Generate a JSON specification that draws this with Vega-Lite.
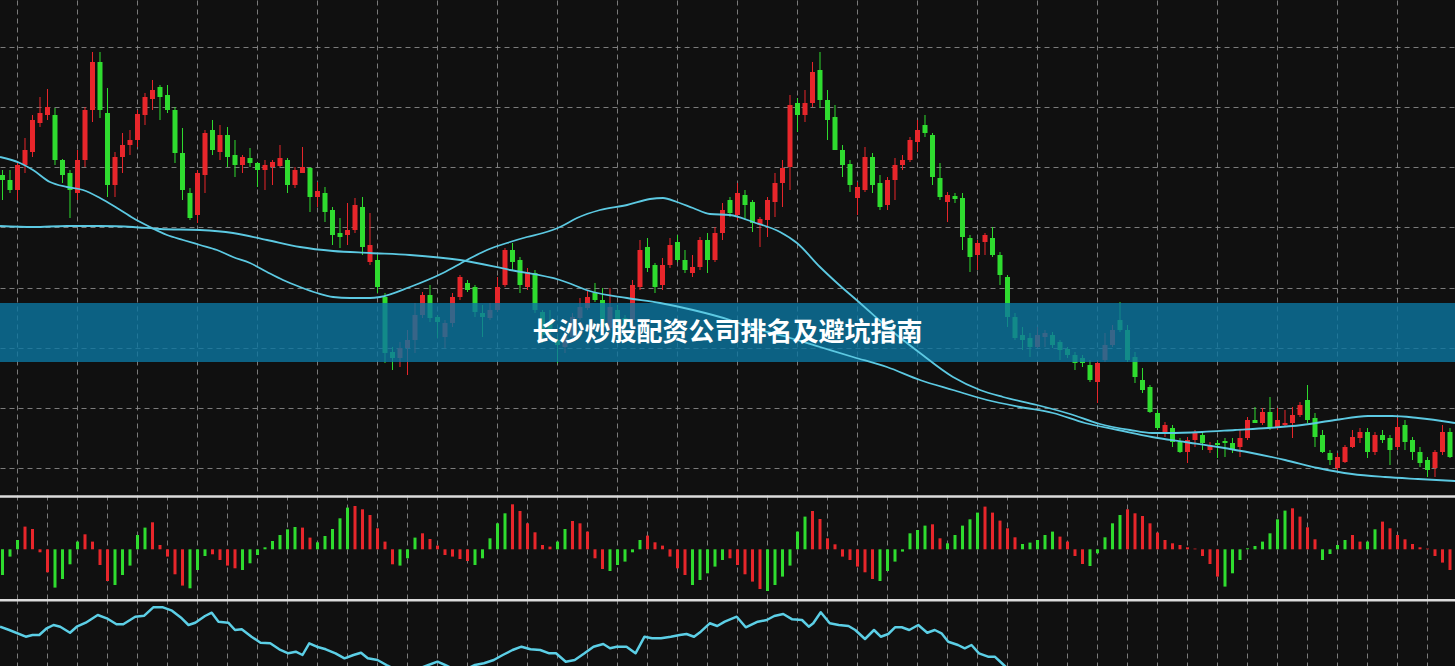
{
"$schema":"https://vega.github.io/schema/vega-lite/v6.json",
"background":"#101010","padding":0,"spacing":0,
"config":{"view":{"stroke":null},"axis":{"labels":false,"ticks":false,"domain":false,"minExtent":0,"maxExtent":0,"gridDash":[5,4],"gridColor":"#8e8e8e","gridOpacity":0.85,"gridWidth":1}},
"datasets":{
"candles":[
{"i":0,"o":32.5,"h":33,"l":30,"c":32,"d":"dn"},{"i":1,"o":32,"h":33,"l":30.7,"c":31,"d":"dn"},{"i":2,"o":31,"h":33.7,"l":30,"c":33.5,"d":"up"},{"i":3,"o":33.5,"h":36.2,"l":32.7,"c":35,"d":"up"},{"i":4,"o":34.8,"h":38.5,"l":34.3,"c":38,"d":"up"},{"i":5,"o":37.7,"h":40.3,"l":37.3,"c":38.7,"d":"up"},{"i":6,"o":38.5,"h":41.1,"l":38,"c":39.3,"d":"up"},{"i":7,"o":38.5,"h":39.2,"l":33.5,"c":34,"d":"dn"},{"i":8,"o":34,"h":34.1,"l":31.7,"c":32.5,"d":"dn"},{"i":9,"o":32.7,"h":33,"l":28.2,"c":31,"d":"dn"},
{"i":10,"o":30.7,"h":35,"l":30,"c":34,"d":"up"},{"i":11,"o":34,"h":39.3,"l":33.3,"c":39,"d":"up"},{"i":12,"o":39,"h":44.8,"l":37.8,"c":43.8,"d":"up"},{"i":13,"o":43.8,"h":44.8,"l":38.2,"c":39,"d":"dn"},{"i":14,"o":38.7,"h":41.2,"l":30.3,"c":31.5,"d":"dn"},{"i":15,"o":31.5,"h":34.8,"l":30.3,"c":34.3,"d":"up"},{"i":16,"o":34.3,"h":36.7,"l":32.7,"c":35.5,"d":"up"},{"i":17,"o":35.5,"h":37,"l":34.5,"c":36,"d":"up"},{"i":18,"o":36,"h":39,"l":35.3,"c":38.6,"d":"up"},{"i":19,"o":38.5,"h":40.7,"l":37.5,"c":40.3,"d":"up"},
{"i":20,"o":40.1,"h":42,"l":39,"c":41,"d":"up"},{"i":21,"o":41.3,"h":41.5,"l":38,"c":40.3,"d":"dn"},{"i":22,"o":40.5,"h":41.5,"l":38.7,"c":39,"d":"dn"},{"i":23,"o":39,"h":39.3,"l":33.7,"c":34.7,"d":"dn"},{"i":24,"o":34.7,"h":37.2,"l":30,"c":31,"d":"dn"},{"i":25,"o":30.7,"h":31.2,"l":28,"c":28.2,"d":"dn"},{"i":26,"o":28.5,"h":33,"l":27.7,"c":32.7,"d":"up"},{"i":27,"o":32.5,"h":37,"l":30.7,"c":36.7,"d":"up"},{"i":28,"o":37,"h":38,"l":34.5,"c":35,"d":"dn"},{"i":29,"o":34.8,"h":37.5,"l":34,"c":36.5,"d":"up"},
{"i":30,"o":36.5,"h":37.3,"l":33.3,"c":34.3,"d":"dn"},{"i":31,"o":34.5,"h":36,"l":32.3,"c":33.5,"d":"dn"},{"i":32,"o":33.5,"h":34.5,"l":32.7,"c":34.3,"d":"up"},{"i":33,"o":34.2,"h":35.2,"l":33.3,"c":33.7,"d":"dn"},{"i":34,"o":33.7,"h":33.8,"l":31.3,"c":33,"d":"dn"},{"i":35,"o":33,"h":34,"l":31,"c":33.5,"d":"up"},{"i":36,"o":33.3,"h":34,"l":31.5,"c":33.8,"d":"up"},{"i":37,"o":33.4,"h":35.5,"l":33.3,"c":34.2,"d":"up"},{"i":38,"o":34,"h":34.2,"l":30.7,"c":31.5,"d":"dn"},{"i":39,"o":31.5,"h":33.3,"l":31.2,"c":33,"d":"up"},
{"i":40,"o":32.7,"h":35.3,"l":32.7,"c":33.3,"d":"up"},{"i":41,"o":33.2,"h":33.3,"l":28.8,"c":30.3,"d":"dn"},{"i":42,"o":30.3,"h":31.8,"l":29.3,"c":30.9,"d":"up"},{"i":43,"o":30.7,"h":31.3,"l":27.8,"c":28.8,"d":"dn"},{"i":44,"o":29,"h":29.3,"l":25.5,"c":26.5,"d":"dn"},{"i":45,"o":26.7,"h":28.2,"l":25.2,"c":26.3,"d":"dn"},{"i":46,"o":26.5,"h":29.7,"l":25.5,"c":27,"d":"up"},{"i":47,"o":27,"h":30.2,"l":26.7,"c":29.5,"d":"up"},{"i":48,"o":29.3,"h":30.3,"l":24.5,"c":25.3,"d":"dn"},{"i":49,"o":23.8,"h":28.7,"l":23.5,"c":25.5,"d":"up"},
{"i":50,"o":24,"h":24.5,"l":20.7,"c":21.3,"d":"dn"},{"i":51,"o":20.3,"h":20.7,"l":13.7,"c":14.7,"d":"dn"},{"i":52,"o":14.8,"h":15.3,"l":13,"c":14.2,"d":"dn"},{"i":53,"o":14.2,"h":15.8,"l":13.3,"c":15.2,"d":"up"},{"i":54,"o":15.2,"h":17,"l":12.5,"c":16,"d":"up"},{"i":55,"o":16,"h":19.7,"l":14.7,"c":18.5,"d":"up"},{"i":56,"o":18.5,"h":20.8,"l":18.2,"c":20.5,"d":"up"},{"i":57,"o":20.5,"h":21.5,"l":17.8,"c":18.2,"d":"dn"},{"i":58,"o":18.3,"h":18.5,"l":16.2,"c":17.8,"d":"dn"},{"i":59,"o":16.3,"h":18,"l":15.2,"c":17.7,"d":"up"},
{"i":60,"o":17.7,"h":20.7,"l":17.3,"c":20.3,"d":"up"},{"i":61,"o":20.3,"h":22.5,"l":20,"c":22.3,"d":"up"},{"i":62,"o":21.7,"h":22,"l":20.8,"c":21,"d":"dn"},{"i":63,"o":21.3,"h":21.5,"l":18.3,"c":18.8,"d":"dn"},{"i":64,"o":18.7,"h":19.5,"l":16.3,"c":18.3,"d":"dn"},{"i":65,"o":18.2,"h":19.7,"l":18,"c":19,"d":"up"},{"i":66,"o":19,"h":22.3,"l":18.8,"c":21.3,"d":"up"},{"i":67,"o":21.5,"h":25.2,"l":21.3,"c":25,"d":"up"},{"i":68,"o":25,"h":25.7,"l":23,"c":23.8,"d":"dn"},{"i":69,"o":24,"h":24.3,"l":20.7,"c":21.5,"d":"dn"},
{"i":70,"o":21.3,"h":23.2,"l":21,"c":22.8,"d":"up"},{"i":71,"o":22.7,"h":23,"l":18.7,"c":19,"d":"dn"},{"i":72,"o":18.8,"h":19,"l":15.7,"c":16.5,"d":"dn"},{"i":73,"o":17.8,"h":19,"l":16,"c":17,"d":"dn"},{"i":74,"o":16,"h":16.3,"l":13.7,"c":15.5,"d":"dn"},{"i":75,"o":15.3,"h":17,"l":14.7,"c":16.3,"d":"up"},{"i":76,"o":16.3,"h":18.7,"l":16,"c":18.3,"d":"up"},{"i":77,"o":18.2,"h":20.2,"l":18,"c":19.3,"d":"up"},{"i":78,"o":19.2,"h":21,"l":19,"c":20.3,"d":"up"},{"i":79,"o":20.7,"h":21.7,"l":19.8,"c":20,"d":"dn"},
{"i":80,"o":20,"h":21.2,"l":16.7,"c":17.3,"d":"dn"},{"i":81,"o":17.2,"h":21.2,"l":16.7,"c":19.3,"d":"up"},{"i":82,"o":19,"h":19.5,"l":17,"c":18,"d":"dn"},{"i":83,"o":18.2,"h":18.5,"l":16.7,"c":17.5,"d":"dn"},{"i":84,"o":18,"h":22,"l":17.7,"c":21.5,"d":"up"},{"i":85,"o":21.3,"h":26,"l":21,"c":25,"d":"up"},{"i":86,"o":25.3,"h":26.2,"l":22.8,"c":23.2,"d":"dn"},{"i":87,"o":23.5,"h":23.7,"l":20.7,"c":21.3,"d":"dn"},{"i":88,"o":21.5,"h":24.2,"l":21,"c":23.5,"d":"up"},{"i":89,"o":23.5,"h":26.2,"l":23.2,"c":25.5,"d":"up"},
{"i":90,"o":25.8,"h":26.5,"l":23.8,"c":24,"d":"dn"},{"i":91,"o":24,"h":25,"l":22.7,"c":23,"d":"dn"},{"i":92,"o":22.7,"h":24.5,"l":22.3,"c":23.3,"d":"up"},{"i":93,"o":23.3,"h":26.3,"l":23,"c":26,"d":"up"},{"i":94,"o":26,"h":26.7,"l":22.7,"c":24,"d":"dn"},{"i":95,"o":24,"h":27.3,"l":23.8,"c":26.7,"d":"up"},{"i":96,"o":26.7,"h":29.7,"l":26,"c":29,"d":"up"},{"i":97,"o":30,"h":30.3,"l":28.3,"c":28.7,"d":"dn"},{"i":98,"o":28.5,"h":31.7,"l":28,"c":30.7,"d":"up"},{"i":99,"o":30.5,"h":31,"l":28,"c":29.5,"d":"dn"},
{"i":100,"o":29.8,"h":30,"l":26.8,"c":27.7,"d":"dn"},{"i":101,"o":27.5,"h":28.3,"l":25.3,"c":28.1,"d":"up"},{"i":102,"o":28,"h":30.3,"l":26.3,"c":30,"d":"up"},{"i":103,"o":29.8,"h":32.7,"l":28.3,"c":31.7,"d":"up"},{"i":104,"o":31.7,"h":34,"l":29.3,"c":33.2,"d":"up"},{"i":105,"o":33.3,"h":40.5,"l":31,"c":39.5,"d":"up"},{"i":106,"o":39.7,"h":40.2,"l":36.8,"c":38.5,"d":"dn"},{"i":107,"o":38.5,"h":41,"l":37.8,"c":39.7,"d":"up"},{"i":108,"o":39.7,"h":43.8,"l":39.3,"c":42.8,"d":"up"},{"i":109,"o":43,"h":44.8,"l":39.2,"c":40,"d":"dn"},
{"i":110,"o":40,"h":41,"l":36,"c":38,"d":"dn"},{"i":111,"o":38.3,"h":39.5,"l":35,"c":35,"d":"dn"},{"i":112,"o":35,"h":35.5,"l":32.3,"c":33.5,"d":"dn"},{"i":113,"o":33.6,"h":34,"l":30.8,"c":31.5,"d":"dn"},{"i":114,"o":30.2,"h":31.8,"l":28.5,"c":31.3,"d":"up"},{"i":115,"o":31,"h":35.3,"l":30.8,"c":34.3,"d":"up"},{"i":116,"o":34.3,"h":34.7,"l":30.7,"c":31.5,"d":"dn"},{"i":117,"o":31.7,"h":32.5,"l":29,"c":29.3,"d":"dn"},{"i":118,"o":29.5,"h":32.3,"l":29,"c":32,"d":"up"},{"i":119,"o":32,"h":34.2,"l":30,"c":33.5,"d":"up"},
{"i":120,"o":33.5,"h":34.5,"l":33,"c":34,"d":"up"},{"i":121,"o":34,"h":36.3,"l":33.8,"c":36,"d":"up"},{"i":122,"o":35.8,"h":38,"l":34.8,"c":37,"d":"up"},{"i":123,"o":37.5,"h":38.5,"l":36.3,"c":36.7,"d":"dn"},{"i":124,"o":36.5,"h":36.7,"l":31.5,"c":32.3,"d":"dn"},{"i":125,"o":32.2,"h":33.7,"l":30,"c":30.3,"d":"dn"},{"i":126,"o":29.8,"h":30.8,"l":27.8,"c":30.5,"d":"up"},{"i":127,"o":30.4,"h":30.7,"l":29.7,"c":30.1,"d":"dn"},{"i":128,"o":30.2,"h":30.7,"l":25,"c":26.3,"d":"dn"},{"i":129,"o":26.2,"h":26.5,"l":22.8,"c":24.3,"d":"dn"},
{"i":130,"o":24.5,"h":26,"l":23,"c":25.7,"d":"up"},{"i":131,"o":25.8,"h":26.7,"l":24.5,"c":26.5,"d":"up"},{"i":132,"o":26.2,"h":27.3,"l":24.3,"c":24.5,"d":"dn"},{"i":133,"o":24.5,"h":24.8,"l":21.5,"c":22.5,"d":"dn"},{"i":134,"o":22.3,"h":22.5,"l":17.3,"c":18.3,"d":"dn"},{"i":135,"o":18.3,"h":18.7,"l":16,"c":16.2,"d":"dn"},{"i":136,"o":16.5,"h":17.3,"l":15,"c":16,"d":"dn"},{"i":137,"o":16.2,"h":16.7,"l":14.3,"c":15.3,"d":"dn"},{"i":138,"o":15.3,"h":17.3,"l":15.2,"c":16.5,"d":"up"},{"i":139,"o":16.3,"h":17,"l":15.3,"c":16.7,"d":"up"},
{"i":140,"o":16.5,"h":16.8,"l":15.2,"c":15.5,"d":"dn"},{"i":141,"o":15.8,"h":16,"l":14,"c":15,"d":"dn"},{"i":142,"o":15.1,"h":15.3,"l":14.2,"c":14.5,"d":"dn"},{"i":143,"o":14.5,"h":14.8,"l":13,"c":13.7,"d":"dn"},{"i":144,"o":14.2,"h":14.5,"l":13.3,"c":13.7,"d":"dn"},{"i":145,"o":13.5,"h":14,"l":11.8,"c":12,"d":"dn"},{"i":146,"o":11.8,"h":14,"l":9.7,"c":13.7,"d":"up"},{"i":147,"o":14,"h":16.7,"l":13.8,"c":15.5,"d":"up"},{"i":148,"o":15.5,"h":17.5,"l":15.3,"c":17,"d":"up"},{"i":149,"o":18,"h":19.8,"l":16.8,"c":17,"d":"dn"},
{"i":150,"o":17,"h":17.5,"l":13.8,"c":14,"d":"dn"},{"i":151,"o":14.3,"h":14.8,"l":11.7,"c":12.3,"d":"dn"},{"i":152,"o":12,"h":13.2,"l":10.7,"c":11,"d":"dn"},{"i":153,"o":11.3,"h":11.5,"l":8.7,"c":8.8,"d":"dn"},{"i":154,"o":8.7,"h":9,"l":7,"c":7.2,"d":"dn"},{"i":155,"o":6.7,"h":7.8,"l":6.3,"c":7.5,"d":"up"},{"i":156,"o":7.2,"h":7.5,"l":5.3,"c":5.8,"d":"dn"},{"i":157,"o":5.8,"h":6.2,"l":4.7,"c":4.8,"d":"dn"},{"i":158,"o":4.8,"h":6.3,"l":3.7,"c":6,"d":"up"},{"i":159,"o":6,"h":7,"l":5.3,"c":6.7,"d":"up"},
{"i":160,"o":6.5,"h":6.8,"l":5,"c":5.7,"d":"dn"},{"i":161,"o":5,"h":5.8,"l":4.7,"c":5.5,"d":"up"},{"i":162,"o":5.7,"h":6,"l":4.2,"c":5.5,"d":"dn"},{"i":163,"o":5.9,"h":6.2,"l":4.3,"c":5.7,"d":"dn"},{"i":164,"o":5.7,"h":6.2,"l":4.7,"c":5.1,"d":"dn"},{"i":165,"o":5.3,"h":7,"l":4.3,"c":6.2,"d":"up"},{"i":166,"o":6.2,"h":8.3,"l":6,"c":8,"d":"up"},{"i":167,"o":8,"h":9.3,"l":7.7,"c":7.7,"d":"dn"},{"i":168,"o":7.7,"h":9.2,"l":7.5,"c":8.8,"d":"up"},{"i":169,"o":8.8,"h":10.3,"l":7,"c":7.2,"d":"dn"},
{"i":170,"o":7.2,"h":9.2,"l":7,"c":8,"d":"up"},{"i":171,"o":7.5,"h":9,"l":7.3,"c":7.7,"d":"up"},{"i":172,"o":7.7,"h":9.3,"l":6.2,"c":8.5,"d":"up"},{"i":173,"o":8.5,"h":9.8,"l":8.3,"c":9.5,"d":"up"},{"i":174,"o":10,"h":11.5,"l":7.7,"c":8,"d":"dn"},{"i":175,"o":8.2,"h":8.7,"l":5.3,"c":6.3,"d":"dn"},{"i":176,"o":6.5,"h":7,"l":4.7,"c":4.8,"d":"dn"},{"i":177,"o":4.7,"h":5,"l":3.5,"c":4,"d":"dn"},{"i":178,"o":3.2,"h":4.7,"l":3,"c":4.3,"d":"up"},{"i":179,"o":3.8,"h":5.5,"l":3.7,"c":5.3,"d":"up"},
{"i":180,"o":5.3,"h":7,"l":5.2,"c":6.3,"d":"up"},{"i":181,"o":6.2,"h":7.2,"l":5.7,"c":6.8,"d":"up"},{"i":182,"o":6.8,"h":7.2,"l":4.2,"c":4.8,"d":"dn"},{"i":183,"o":4.8,"h":6.8,"l":4.5,"c":6.5,"d":"up"},{"i":184,"o":6.5,"h":7,"l":5.7,"c":6,"d":"dn"},{"i":185,"o":6.2,"h":6.5,"l":3.5,"c":5,"d":"dn"},{"i":186,"o":5.3,"h":8.2,"l":5,"c":7.3,"d":"up"},{"i":187,"o":7.5,"h":8,"l":5,"c":5.8,"d":"dn"},{"i":188,"o":6,"h":6.3,"l":4,"c":4.8,"d":"dn"},{"i":189,"o":4.8,"h":5.3,"l":3.3,"c":3.7,"d":"dn"},
{"i":190,"o":4,"h":4.3,"l":2.3,"c":3,"d":"dn"},{"i":191,"o":3.2,"h":5,"l":2.3,"c":4.8,"d":"up"},{"i":192,"o":4.8,"h":7.5,"l":4.5,"c":6.8,"d":"up"},{"i":193,"o":6.8,"h":7.2,"l":4.2,"c":4.3,"d":"dn"}
],
"hist":[
{"i":0,"v":-25.7,"d":"dn"},{"i":1,"v":-7.3,"d":"dn"},{"i":2,"v":9.3,"d":"dn"},{"i":3,"v":22.7,"d":"up"},{"i":4,"v":20.3,"d":"up"},{"i":5,"v":-3,"d":"up"},{"i":6,"v":-23,"d":"up"},{"i":7,"v":-38.3,"d":"dn"},{"i":8,"v":-29.7,"d":"dn"},{"i":9,"v":-15,"d":"dn"},
{"i":10,"v":7.7,"d":"dn"},{"i":11,"v":15,"d":"up"},{"i":12,"v":7.7,"d":"up"},{"i":13,"v":-15.7,"d":"up"},{"i":14,"v":-31.7,"d":"up"},{"i":15,"v":-35.7,"d":"dn"},{"i":16,"v":-25.7,"d":"dn"},{"i":17,"v":-16.3,"d":"dn"},{"i":18,"v":14.3,"d":"dn"},{"i":19,"v":21.7,"d":"dn"},
{"i":20,"v":27,"d":"up"},{"i":21,"v":4.3,"d":"up"},{"i":22,"v":-7.3,"d":"up"},{"i":23,"v":-25,"d":"up"},{"i":24,"v":-36.3,"d":"up"},{"i":25,"v":-39,"d":"dn"},{"i":26,"v":-20.7,"d":"dn"},{"i":27,"v":-6.7,"d":"dn"},{"i":28,"v":-5,"d":"up"},{"i":29,"v":-10.7,"d":"up"},
{"i":30,"v":-16.3,"d":"up"},{"i":31,"v":-19,"d":"up"},{"i":32,"v":-20.7,"d":"dn"},{"i":33,"v":-14,"d":"dn"},{"i":34,"v":-5.7,"d":"dn"},{"i":35,"v":2,"d":"dn"},{"i":36,"v":8.3,"d":"dn"},{"i":37,"v":14.3,"d":"dn"},{"i":38,"v":20,"d":"dn"},{"i":39,"v":22.3,"d":"dn"},
{"i":40,"v":21.7,"d":"up"},{"i":41,"v":11.7,"d":"up"},{"i":42,"v":7,"d":"dn"},{"i":43,"v":13.3,"d":"dn"},{"i":44,"v":20.3,"d":"dn"},{"i":45,"v":31,"d":"dn"},{"i":46,"v":41.7,"d":"dn"},{"i":47,"v":43.3,"d":"up"},{"i":48,"v":40,"d":"up"},{"i":49,"v":34.3,"d":"up"},
{"i":50,"v":21,"d":"up"},{"i":51,"v":7.7,"d":"up"},{"i":52,"v":-15,"d":"up"},{"i":53,"v":-16.3,"d":"dn"},{"i":54,"v":-9,"d":"dn"},{"i":55,"v":11.7,"d":"dn"},{"i":56,"v":16,"d":"up"},{"i":57,"v":10.3,"d":"up"},{"i":58,"v":3.7,"d":"up"},{"i":59,"v":-5.7,"d":"up"},
{"i":60,"v":-7.3,"d":"up"},{"i":61,"v":-9.7,"d":"up"},{"i":62,"v":-11.7,"d":"up"},{"i":63,"v":-15.7,"d":"dn"},{"i":64,"v":-9,"d":"dn"},{"i":65,"v":11,"d":"dn"},{"i":66,"v":26,"d":"dn"},{"i":67,"v":36,"d":"dn"},{"i":68,"v":45,"d":"up"},{"i":69,"v":38.3,"d":"up"},
{"i":70,"v":26,"d":"up"},{"i":71,"v":17,"d":"up"},{"i":72,"v":4.3,"d":"up"},{"i":73,"v":2.7,"d":"up"},{"i":74,"v":7.7,"d":"dn"},{"i":75,"v":20.3,"d":"dn"},{"i":76,"v":28.3,"d":"up"},{"i":77,"v":26,"d":"up"},{"i":78,"v":17.7,"d":"up"},{"i":79,"v":-9,"d":"up"},
{"i":80,"v":-19.7,"d":"up"},{"i":81,"v":-21.7,"d":"dn"},{"i":82,"v":-15.7,"d":"dn"},{"i":83,"v":-12.3,"d":"dn"},{"i":84,"v":-3,"d":"dn"},{"i":85,"v":9.3,"d":"dn"},{"i":86,"v":13.7,"d":"up"},{"i":87,"v":7,"d":"up"},{"i":88,"v":3.7,"d":"up"},{"i":89,"v":-7.3,"d":"up"},
{"i":90,"v":-19,"d":"up"},{"i":91,"v":-25.7,"d":"up"},{"i":92,"v":-35.7,"d":"dn"},{"i":93,"v":-30.7,"d":"dn"},{"i":94,"v":-24,"d":"dn"},{"i":95,"v":-17.3,"d":"dn"},{"i":96,"v":-10.7,"d":"dn"},{"i":97,"v":-9,"d":"up"},{"i":98,"v":-15.7,"d":"up"},{"i":99,"v":-25,"d":"up"},
{"i":100,"v":-32.3,"d":"up"},{"i":101,"v":-39.7,"d":"up"},{"i":102,"v":-41.7,"d":"dn"},{"i":103,"v":-35.7,"d":"dn"},{"i":104,"v":-27.3,"d":"dn"},{"i":105,"v":-16.3,"d":"dn"},{"i":106,"v":17.7,"d":"dn"},{"i":107,"v":32.7,"d":"dn"},{"i":108,"v":38.3,"d":"up"},{"i":109,"v":30.3,"d":"up"},
{"i":110,"v":11,"d":"up"},{"i":111,"v":5,"d":"up"},{"i":112,"v":-7.3,"d":"up"},{"i":113,"v":-10.7,"d":"up"},{"i":114,"v":-17.3,"d":"up"},{"i":115,"v":-23,"d":"up"},{"i":116,"v":-29.7,"d":"up"},{"i":117,"v":-31.7,"d":"dn"},{"i":118,"v":-21.7,"d":"dn"},{"i":119,"v":-12.3,"d":"dn"},
{"i":120,"v":-2.3,"d":"dn"},{"i":121,"v":16,"d":"dn"},{"i":122,"v":19.3,"d":"dn"},{"i":123,"v":23.7,"d":"dn"},{"i":124,"v":25,"d":"up"},{"i":125,"v":11,"d":"up"},{"i":126,"v":6,"d":"dn"},{"i":127,"v":14.3,"d":"dn"},{"i":128,"v":23.7,"d":"dn"},{"i":129,"v":30,"d":"dn"},
{"i":130,"v":36.7,"d":"dn"},{"i":131,"v":42.7,"d":"up"},{"i":132,"v":36.7,"d":"up"},{"i":133,"v":28.7,"d":"up"},{"i":134,"v":21,"d":"up"},{"i":135,"v":12,"d":"up"},{"i":136,"v":5.3,"d":"dn"},{"i":137,"v":6.7,"d":"dn"},{"i":138,"v":9.3,"d":"dn"},{"i":139,"v":14.3,"d":"dn"},
{"i":140,"v":17.7,"d":"dn"},{"i":141,"v":12.7,"d":"up"},{"i":142,"v":7.7,"d":"up"},{"i":143,"v":-6.7,"d":"up"},{"i":144,"v":-14.7,"d":"up"},{"i":145,"v":-16.7,"d":"dn"},{"i":146,"v":-4,"d":"dn"},{"i":147,"v":12,"d":"dn"},{"i":148,"v":26,"d":"dn"},{"i":149,"v":34.3,"d":"dn"},
{"i":150,"v":40,"d":"up"},{"i":151,"v":36,"d":"up"},{"i":152,"v":33.3,"d":"up"},{"i":153,"v":26,"d":"up"},{"i":154,"v":16.7,"d":"up"},{"i":155,"v":9.3,"d":"up"},{"i":156,"v":6,"d":"up"},{"i":157,"v":4.3,"d":"up"},{"i":158,"v":2,"d":"up"},{"i":159,"v":0.7,"d":"up"},
{"i":160,"v":-6.7,"d":"up"},{"i":161,"v":-14.7,"d":"up"},{"i":162,"v":-27.3,"d":"up"},{"i":163,"v":-37.3,"d":"dn"},{"i":164,"v":-24,"d":"dn"},{"i":165,"v":-10.7,"d":"dn"},{"i":166,"v":1,"d":"dn"},{"i":167,"v":3.3,"d":"dn"},{"i":168,"v":7.7,"d":"dn"},{"i":169,"v":16,"d":"dn"},
{"i":170,"v":30,"d":"dn"},{"i":171,"v":38.7,"d":"dn"},{"i":172,"v":41,"d":"up"},{"i":173,"v":32.7,"d":"up"},{"i":174,"v":22,"d":"up"},{"i":175,"v":10,"d":"up"},{"i":176,"v":-10.7,"d":"dn"},{"i":177,"v":-4.7,"d":"dn"},{"i":178,"v":4.3,"d":"dn"},{"i":179,"v":9.3,"d":"dn"},
{"i":180,"v":14.3,"d":"up"},{"i":181,"v":7.7,"d":"up"},{"i":182,"v":7.7,"d":"dn"},{"i":183,"v":20,"d":"dn"},{"i":184,"v":27.7,"d":"up"},{"i":185,"v":21,"d":"up"},{"i":186,"v":14.3,"d":"up"},{"i":187,"v":10,"d":"up"},{"i":188,"v":5.3,"d":"up"},{"i":189,"v":2,"d":"up"},
{"i":190,"v":0.7,"d":"up"},{"i":191,"v":-6.7,"d":"up"},{"i":192,"v":-13.3,"d":"up"},{"i":193,"v":-20.7,"d":"up"}
],
"ma":[
{"i":-0.33,"p":34.3,"s":"A"},{"i":2.33,"p":33.7,"s":"A"},{"i":4.07,"p":33,"s":"A"},{"i":6.33,"p":31.8,"s":"A"},{"i":8.6,"p":31.3,"s":"A"},{"i":10.73,"p":31,"s":"A"},{"i":13,"p":30.2,"s":"A"},{"i":15.27,"p":29.2,"s":"A"},{"i":17.4,"p":28.2,"s":"A"},{"i":19.67,"p":27.3,"s":"A"},{"i":21.93,"p":26.5,"s":"A"},{"i":24.07,"p":26,"s":"A"},{"i":26.33,"p":25.5,"s":"A"},{"i":28.6,"p":25,"s":"A"},{"i":30.73,"p":24.3,"s":"A"},{"i":33,"p":23.7,"s":"A"},{"i":35.27,"p":22.8,"s":"A"},{"i":37.4,"p":22,"s":"A"},{"i":39.67,"p":21.3,"s":"A"},{"i":41.93,"p":20.7,"s":"A"},{"i":44.07,"p":20.3,"s":"A"},{"i":46.33,"p":20.2,"s":"A"},{"i":49,"p":20.2,"s":"A"},{"i":50.33,"p":20.3,"s":"A"},{"i":54.33,"p":21.3,"s":"A"},{"i":58.73,"p":22.7,"s":"A"},{"i":61.93,"p":24,"s":"A"},{"i":64.6,"p":25,"s":"A"},{"i":67.67,"p":25.8,"s":"A"},{"i":69.93,"p":26.3,"s":"A"},{"i":72.07,"p":26.7,"s":"A"},{"i":74.33,"p":27.3,"s":"A"},{"i":76.6,"p":28.2,"s":"A"},{"i":79.67,"p":29,"s":"A"},{"i":83.27,"p":29.5,"s":"A"},{"i":86.33,"p":30.1,"s":"A"},{"i":88.07,"p":30.2,"s":"A"},{"i":89.93,"p":29.8,"s":"A"},{"i":92.07,"p":29.2,"s":"A"},{"i":94.33,"p":28.6,"s":"A"},{"i":97,"p":28.5,"s":"A"},{"i":100.07,"p":27.8,"s":"A"},{"i":103.67,"p":26.8,"s":"A"},{"i":105.93,"p":25.7,"s":"A"},{"i":109,"p":23.3,"s":"A"},{"i":111.27,"p":21.7,"s":"A"},{"i":114.33,"p":19.7,"s":"A"},{"i":117.93,"p":17.3,"s":"A"},{"i":122.33,"p":14.7,"s":"A"},{"i":126.73,"p":12.3,"s":"A"},{"i":130.33,"p":11,"s":"A"},{"i":133.4,"p":10.3,"s":"A"},{"i":137.93,"p":9.5,"s":"A"},{"i":142.33,"p":8.6,"s":"A"},{"i":146.33,"p":7.6,"s":"A"},{"i":150.33,"p":7,"s":"A"},{"i":153.27,"p":6.7,"s":"A"},{"i":155.4,"p":6.7,"s":"A"},{"i":159.93,"p":6.8,"s":"A"},{"i":164.33,"p":7,"s":"A"},{"i":168.73,"p":7.2,"s":"A"},{"i":173.27,"p":7.5,"s":"A"},{"i":177.67,"p":8,"s":"A"},{"i":182.07,"p":8.4,"s":"A"},{"i":185.27,"p":8.4,"s":"A"},{"i":188.73,"p":8.2,"s":"A"},{"i":193.67,"p":7.7,"s":"A"},
{"i":-0.33,"p":27.4,"s":"B"},{"i":4.07,"p":27.3,"s":"B"},{"i":8.6,"p":27.4,"s":"B"},{"i":13,"p":27.4,"s":"B"},{"i":17.4,"p":27.3,"s":"B"},{"i":21,"p":27.1,"s":"B"},{"i":26.33,"p":27,"s":"B"},{"i":30.73,"p":26.7,"s":"B"},{"i":35.27,"p":26,"s":"B"},{"i":39.67,"p":25.3,"s":"B"},{"i":44.07,"p":24.9,"s":"B"},{"i":49,"p":24.7,"s":"B"},{"i":54.33,"p":24.5,"s":"B"},{"i":61,"p":24,"s":"B"},{"i":67.67,"p":23,"s":"B"},{"i":74.33,"p":22,"s":"B"},{"i":78.73,"p":20.8,"s":"B"},{"i":83.27,"p":20.2,"s":"B"},{"i":87.67,"p":19.7,"s":"B"},{"i":92.07,"p":19,"s":"B"},{"i":97,"p":18,"s":"B"},{"i":100.07,"p":17.2,"s":"B"},{"i":104.6,"p":16.3,"s":"B"},{"i":109,"p":15.3,"s":"B"},{"i":113.4,"p":14.3,"s":"B"},{"i":117.93,"p":13.3,"s":"B"},{"i":122.33,"p":12,"s":"B"},{"i":126.73,"p":11,"s":"B"},{"i":131.27,"p":10,"s":"B"},{"i":135.67,"p":9.3,"s":"B"},{"i":140.07,"p":8.7,"s":"B"},{"i":144.33,"p":7.7,"s":"B"},{"i":148.73,"p":7,"s":"B"},{"i":153.27,"p":6.3,"s":"B"},{"i":157.67,"p":5.8,"s":"B"},{"i":162.07,"p":5.3,"s":"B"},{"i":166.6,"p":4.7,"s":"B"},{"i":171,"p":4,"s":"B"},{"i":175.4,"p":3.2,"s":"B"},{"i":179.93,"p":2.6,"s":"B"},{"i":184.33,"p":2.3,"s":"B"},{"i":188.73,"p":2.1,"s":"B"},{"i":193.67,"p":1.9,"s":"B"}
],
"osc":[
{"i":-0.33,"w":39.3},{"i":0.9,"w":36},{"i":3.1,"w":29.3},{"i":4,"w":31},{"i":4.9,"w":31},{"i":5.9,"w":37.7},{"i":6.8,"w":41},{"i":7.7,"w":39.3},{"i":9,"w":33.3},{"i":9.9,"w":39.3},{"i":11.1,"w":43.3},{"i":12.7,"w":51},{"i":13.9,"w":47.7},{"i":15.2,"w":41.7},{"i":16.1,"w":41.7},{"i":17.7,"w":49.3},{"i":18.9,"w":50.3},{"i":20.1,"w":58.7},{"i":21.4,"w":58.7},{"i":22.6,"w":55.3},{"i":23.9,"w":47.7},{"i":24.8,"w":41},{"i":25.7,"w":43.3},{"i":27,"w":50},{"i":27.9,"w":53.3},{"i":28.8,"w":44.3},{"i":30.1,"w":43.3},{"i":31,"w":36},{"i":31.9,"w":36.7},{"i":33.2,"w":29.3},{"i":34.4,"w":23.3},{"i":35.7,"w":22.7},{"i":36.9,"w":16.7},{"i":38.1,"w":12.7},{"i":39.1,"w":14.3},{"i":40,"w":11},{"i":40.9,"w":22.7},{"i":41.9,"w":19.3},{"i":43.1,"w":16.7},{"i":44.4,"w":12.7},{"i":45.6,"w":7.7},{"i":46.8,"w":11},{"i":47.8,"w":13.3},{"i":48.7,"w":7.7},{"i":50,"w":6},{"i":51.2,"w":1},{"i":53,"w":-6},{"i":55,"w":-4},{"i":56.8,"w":1},{"i":58,"w":4.3},{"i":59,"w":1},{"i":61,"w":-6},{"i":63,"w":1},{"i":64.2,"w":2.7},{"i":65.5,"w":6},{"i":66.7,"w":11},{"i":68,"w":16},{"i":69.2,"w":19.3},{"i":70.4,"w":16.7},{"i":71.7,"w":16},{"i":72.9,"w":12.7},{"i":73.8,"w":12.7},{"i":75.1,"w":4.3},{"i":76.3,"w":6},{"i":77.6,"w":12.7},{"i":78.8,"w":19.3},{"i":80.1,"w":22},{"i":81,"w":17.7},{"i":81.9,"w":19.3},{"i":83.2,"w":19.3},{"i":84.4,"w":12.7},{"i":85.6,"w":29.3},{"i":86.6,"w":27.7},{"i":87.8,"w":27.7},{"i":89.1,"w":29.3},{"i":90.3,"w":31},{"i":91.2,"w":32},{"i":92.2,"w":29.3},{"i":93.1,"w":34.3},{"i":94.3,"w":42.7},{"i":95.3,"w":40},{"i":96.3,"w":44.3},{"i":97.9,"w":49.3},{"i":99.1,"w":38.7},{"i":100.7,"w":44.3},{"i":101.9,"w":46},{"i":102.9,"w":50},{"i":104.1,"w":52},{"i":105.3,"w":46.7},{"i":106.6,"w":46},{"i":107.5,"w":39.3},{"i":108.1,"w":42.7},{"i":109.1,"w":53.7},{"i":110.3,"w":42.7},{"i":111.5,"w":41},{"i":112.8,"w":40},{"i":113.7,"w":36},{"i":115,"w":27},{"i":116.2,"w":36},{"i":117.1,"w":29.3},{"i":118.1,"w":32},{"i":119,"w":38.7},{"i":119.9,"w":38.7},{"i":120.9,"w":36},{"i":122.1,"w":41},{"i":123.3,"w":33.3},{"i":124.3,"w":36},{"i":125.2,"w":32.7},{"i":126.1,"w":24.3},{"i":127.4,"w":21},{"i":128.3,"w":17.7},{"i":129.2,"w":21},{"i":130.2,"w":12.7},{"i":131.4,"w":9.3},{"i":132.3,"w":9.3},{"i":133.5,"w":1},{"i":135.7,"w":-14},{"i":160,"w":-30},{"i":193.67,"w":-40}
]
},
"vconcat":[
{"width":1455,"height":495,
"layer":[
{"data":{"name":"candles"},"mark":{"type":"rule","strokeWidth":1,"clip":true},
"encoding":{"x":{"field":"i","type":"quantitative","scale":{"domain":[-0.3333,193.6667],"nice":false,"zero":false,"padding":0},"axis":{"grid":true,"title":null,"values":[2,6,10,14,18,22,26,30,34,38,42,46,50,54,58,62,66,70,74,78,82,86,90,94,98,102,106,110,114,118,122,126,130,134,138,142,146,150,154,158,162,166,170,174,178,182,186,190]}},
"y":{"field":"l","type":"quantitative","scale":{"domain":[0.5,50],"nice":false,"zero":false,"padding":0},"axis":{"grid":true,"title":null,"values":[48.25,45.25,42.25,39.25,36.25,33.25,30.25,27.25,24.25,21.25,18.25,15.25,12.25,9.25,6.25,3.25]}},
"y2":{"field":"h"},
"color":{"field":"d","type":"nominal","scale":{"domain":["up","dn"],"range":["#e8262b","#2fdc2f"]},"legend":null}}},
{"data":{"name":"candles"},"mark":{"type":"bar","size":5,"clip":true},
"encoding":{"x":{"field":"i","type":"quantitative"},"y":{"field":"o","type":"quantitative"},"y2":{"field":"c"},
"color":{"field":"d","type":"nominal","scale":{"domain":["up","dn"],"range":["#e8262b","#2fdc2f"]},"legend":null}}},
{"data":{"values":[{}]},"mark":{"type":"rect","fill":"#0b76a0","opacity":0.8,"clip":true},
"encoding":{"x":{"datum":-2},"x2":{"datum":196},"y":{"datum":19.7},"y2":{"datum":13.8}}},
{"data":{"name":"ma"},"mark":{"type":"line","strokeWidth":1.8,"interpolate":"monotone","color":"#5cc9e2","clip":true,"strokeJoin":"round"},
"encoding":{"x":{"field":"i","type":"quantitative"},"y":{"field":"p","type":"quantitative"},"detail":{"field":"s"}}},
{"data":{"values":[{"t":"长沙炒股配资公司排名及避坑指南"}]},"mark":{"type":"text","font":"Noto Sans CJK SC","fontWeight":"bold","fontSize":26,"color":"#ffffff","align":"center","baseline":"middle"},
"encoding":{"x":{"datum":96.6667},"y":{"datum":16.7},"text":{"field":"t"}}}
]},
{"width":1455,"height":104,
"layer":[
{"data":{"name":"hist"},"mark":{"type":"bar","size":3,"clip":true},
"encoding":{"x":{"field":"i","type":"quantitative","scale":{"domain":[-0.3333,193.6667],"nice":false,"zero":false,"padding":0},"axis":{"grid":true,"title":null,"values":[2,6,10,14,18,22,26,30,34,38,42,46,50,54,58,62,66,70,74,78,82,86,90,94,98,102,106,110,114,118,122,126,130,134,138,142,146,150,154,158,162,166,170,174,178,182,186,190]}},
"y":{"field":"v","type":"quantitative","scale":{"domain":[-49.7,54.3],"nice":false,"zero":false,"padding":0},"axis":null},
"y2":{"datum":0},
"color":{"field":"d","type":"nominal","scale":{"domain":["up","dn"],"range":["#e8262b","#2fdc2f"]},"legend":null}}},
{"data":{"values":[{}]},"mark":{"type":"rule","color":"#dcdcdc","strokeWidth":2.5,"clip":true},"encoding":{"y":{"datum":52.8}}}
]},
{"width":1455,"height":67,
"layer":[
{"data":{"name":"osc"},"mark":{"type":"line","clip":true,"color":"#5ccfe6","strokeWidth":2.5,"strokeJoin":"round"},
"encoding":{"x":{"field":"i","type":"quantitative","scale":{"domain":[-0.3333,193.6667],"nice":false,"zero":false,"padding":0},"axis":{"grid":true,"title":null,"values":[2,6,10,14,18,22,26,30,34,38,42,46,50,54,58,62,66,70,74,78,82,86,90,94,98,102,106,110,114,118,122,126,130,134,138,142,146,150,154,158,162,166,170,174,178,182,186,190]}},
"y":{"field":"w","type":"quantitative","scale":{"domain":[0,67],"nice":false,"zero":false},"axis":null}}},
{"data":{"values":[{}]},"mark":{"type":"rule","color":"#dcdcdc","strokeWidth":2.5,"clip":true},"encoding":{"y":{"datum":65.7}}}
]}
]
}
